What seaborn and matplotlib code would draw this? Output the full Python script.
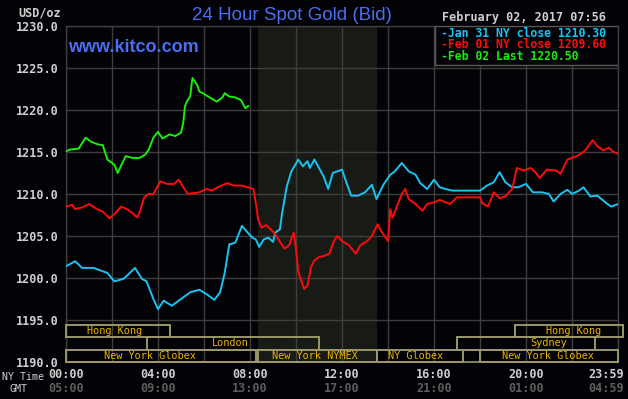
import matplotlib
matplotlib.use("Agg")
import matplotlib.pyplot as plt
import matplotlib.transforms as mtransforms
from matplotlib.patches import Rectangle
import seaborn as sns
import pandas as pd

# ---------------- data ----------------
jan31_hours = [0, 0.4, 0.7, 1.2, 1.8, 2.1, 2.5, 2.7, 3.0, 3.3, 3.5, 3.8, 4.0, 4.25, 4.6, 5.0,
               5.4, 5.8, 6.1, 6.45, 6.7, 6.9, 7.1, 7.36, 7.65, 7.9, 8.1, 8.25, 8.4, 8.6, 8.8,
               9.0, 9.1, 9.3, 9.4, 9.6, 9.8, 10.1, 10.3, 10.5, 10.6, 10.8, 11.0, 11.2, 11.4,
               11.6, 11.8, 12.0, 12.2, 12.4, 12.7, 13.0, 13.3, 13.5, 13.8, 14.1, 14.3, 14.6,
               14.9, 15.2, 15.4, 15.7, 16.0, 16.25, 16.5, 16.8, 18.0, 18.3, 18.6, 18.85, 19.1,
               19.4, 19.65, 20.0, 20.3, 20.7, 21.0, 21.2, 21.5, 21.8, 22.0, 22.3, 22.5, 22.8,
               23.1, 23.5, 23.7, 24.0]
jan31_price = [1201.4, 1202.0, 1201.2, 1201.2, 1200.6, 1199.6, 1199.9, 1200.4, 1201.2, 1199.9,
               1199.6, 1197.5, 1196.3, 1197.3, 1196.7, 1197.5, 1198.3, 1198.6, 1198.1, 1197.4,
               1198.3, 1200.6, 1204.0, 1204.2, 1206.2, 1205.4, 1204.8, 1204.6, 1203.7, 1204.6,
               1204.8, 1204.3, 1205.4, 1205.8, 1207.8, 1210.9, 1212.7, 1214.1, 1213.3, 1213.9,
               1213.1, 1214.1, 1213.1, 1212.1, 1210.6, 1212.5, 1212.7, 1212.9, 1211.3, 1209.8,
               1209.8, 1210.2, 1211.1, 1209.4, 1211.1, 1212.3, 1212.7, 1213.7, 1212.7, 1212.3,
               1211.3, 1210.6, 1211.7, 1210.8, 1210.6, 1210.4, 1210.4, 1211.0, 1211.4, 1212.6,
               1211.4, 1210.8, 1210.8, 1211.2, 1210.2, 1210.2, 1210.0, 1209.1, 1210.0, 1210.5,
               1210.0, 1210.4, 1210.8, 1209.7, 1209.8, 1208.9, 1208.5, 1208.8]

feb01_hours = [0, 0.26, 0.4, 0.7, 1.0, 1.35, 1.6, 1.9, 2.1, 2.4, 2.65, 2.9, 3.1, 3.2, 3.4, 3.6,
               3.8, 4.1, 4.4, 4.7, 4.9, 5.1, 5.3, 5.55, 5.8, 6.1, 6.35, 6.6, 7.0, 7.3, 7.65,
               7.9, 8.15, 8.25, 8.35, 8.5, 8.7, 8.9, 9.1, 9.35, 9.5, 9.7, 9.9, 10.0, 10.1,
               10.35, 10.5, 10.65, 10.8, 11.0, 11.2, 11.45, 11.65, 11.8, 12.0, 12.3, 12.6,
               12.8, 13.1, 13.3, 13.55, 13.7, 14.0, 14.1, 14.2, 14.4, 14.6, 14.75, 14.9, 15.2,
               15.5, 15.7, 16.0, 16.25, 16.7, 17.0, 18.0, 18.1, 18.35, 18.6, 18.85, 19.1,
               19.4, 19.6, 19.9, 20.2, 20.4, 20.6, 20.9, 21.3, 21.5, 21.8, 22.2, 22.55, 22.9,
               23.1, 23.35, 23.6, 23.8, 24.0]
feb01_price = [1208.5, 1208.7, 1208.2, 1208.4, 1208.8, 1208.2, 1207.9, 1207.1, 1207.6, 1208.5,
               1208.2, 1207.7, 1207.2, 1207.8, 1209.6, 1210.0, 1210.0, 1211.5, 1211.2, 1211.2,
               1211.7, 1210.8, 1210.0, 1210.1, 1210.2, 1210.6, 1210.4, 1210.8, 1211.3, 1211.0,
               1211.0, 1210.8, 1210.6, 1209.0, 1207.0, 1206.0, 1206.3, 1205.8, 1205.2, 1204.1,
               1203.5, 1203.9, 1205.4, 1203.5, 1200.7, 1198.7, 1199.1, 1201.3, 1202.1, 1202.5,
               1202.6, 1202.9, 1204.4, 1205.0, 1204.4, 1203.9, 1202.9, 1203.9, 1204.4, 1205.0,
               1206.4, 1205.6, 1204.4, 1208.2, 1207.2, 1208.6, 1210.0, 1210.6, 1209.4, 1208.8,
               1208.0, 1208.8, 1209.0, 1209.3, 1208.8, 1209.6, 1209.6, 1208.9, 1208.5, 1210.2,
               1209.5, 1209.7, 1210.6, 1213.1, 1212.8, 1213.1, 1212.6, 1211.9, 1212.9, 1212.8,
               1212.4, 1214.1, 1214.5, 1215.1, 1216.4, 1215.7, 1215.2, 1215.5, 1215.0, 1214.8]

feb02_hours = [0, 0.2, 0.55, 0.85, 1.1, 1.4, 1.6, 1.8, 2.1, 2.25, 2.4, 2.6, 2.9, 3.2, 3.45,
               3.6, 3.8, 4.0, 4.2, 4.5, 4.75, 5.0, 5.1, 5.17, 5.25, 5.4, 5.46, 5.5, 5.7, 5.8,
               6.0, 6.3, 6.55, 6.8, 6.9, 7.1, 7.35, 7.6, 7.8, 7.93]
feb02_price = [1215.1, 1215.3, 1215.4, 1216.7, 1216.2, 1215.9, 1215.8, 1214.1, 1213.5, 1212.5,
               1213.4, 1214.5, 1214.3, 1214.3, 1214.7, 1215.3, 1216.7, 1217.4, 1216.6, 1217.1,
               1216.9, 1217.3, 1218.5, 1220.4, 1221.0, 1221.6, 1223.0, 1223.8, 1223.0, 1222.2,
               1221.9, 1221.4, 1221.0, 1221.5, 1222.0, 1221.6, 1221.5, 1221.2, 1220.2, 1220.5]

legend_labels = ["Jan 31 NY close 1210.30", "Feb 01 NY close 1209.60", "Feb 02 Last 1220.50"]
ny_time_labels = ["00:00", "04:00", "08:00", "12:00", "16:00", "20:00", "23:59"]
gmt_labels = ["05:00", "09:00", "13:00", "17:00", "21:00", "01:00", "04:59"]
time_label_hours = [0, 4, 8, 12, 16, 20, 23.5]
y_ticks = [1190, 1195, 1200, 1205, 1210, 1215, 1220, 1225, 1230]

# sessions: name, start hour, end hour, row (0 bottom), label centre hour
session_names = ["Hong Kong", "London", "New York Globex", "New York NYMEX", "NY Globex",
                 "Sydney", "Hong Kong", "New York Globex"]
session_start = [0, 3.5, 0, 8.33, 13.5, 17.0, 19.5, 18.0]
session_end = [4.5, 11.0, 8.25, 13.5, 17.25, 23.0, 24.2, 24.0]
session_row = [2, 1, 0, 0, 0, 1, 2, 0]
session_label_at = [2.13, 7.13, 3.65, 10.8, 15.2, 21.0, 22.05, 20.96]

# ---------------- style ----------------
sns.set_theme(style="dark")
BG = "#030206"
GRID = "#3e3e3e"
TXT = "#cfcfcf"
plt.rcParams["font.family"] = ["DejaVu Sans"]

fig = plt.figure(figsize=(6.28, 3.99), dpi=100, facecolor=BG)
ax = fig.add_axes([66 / 628, 37 / 399, 552 / 628, 336 / 399])
ax.set_facecolor(BG)

colors = ["#19c3f3", "#ff0a0a", "#18ee08"]
frames = [
    pd.DataFrame({"hour": jan31_hours, "price": jan31_price}),
    pd.DataFrame({"hour": feb01_hours, "price": feb01_price}),
    pd.DataFrame({"hour": feb02_hours, "price": feb02_price}),
]

# shaded NYMEX pit session
ax.axvspan(8.33, 13.5, color="#181a16", zorder=0, lw=0)

for df, c in zip(frames, colors):
    sns.lineplot(data=df, x="hour", y="price", color=c, linewidth=1.4, ax=ax,
                 estimator=None, sort=False, zorder=5)

ax.set_xlim(0, 24)
ax.set_ylim(1190, 1230)
ax.set_yticks(y_ticks)
ax.set_yticklabels([f"{v:.1f}" for v in y_ticks], family="DejaVu Sans Mono",
                   fontweight="bold", fontsize=8.5, color=TXT)
ax.set_xticks(range(0, 25, 2))
ax.set_xticklabels([])
ax.tick_params(axis="both", length=0)
ax.tick_params(axis="y", pad=5)
ax.set_xlabel("")
ax.set_ylabel("")
ax.grid(True, color=GRID, linewidth=1.0, zorder=1)
ax.set_axisbelow(True)
for side in ["left", "right", "top"]:
    ax.spines[side].set_visible(True)
    ax.spines[side].set_color(GRID)
    ax.spines[side].set_linewidth(1.0)
ax.spines["bottom"].set_visible(True)
ax.spines["bottom"].set_color("#9a9868")
ax.spines["bottom"].set_linewidth(1.2)

# session bars (x data, y axes fraction)
trans = mtransforms.blended_transform_factory(ax.transData, ax.transAxes)
row_h = 0.0372
for name, s, e, r, lx in zip(session_names, session_start, session_end, session_row,
                             session_label_at):
    y0 = r * row_h
    ax.add_patch(Rectangle((s, y0), e - s, row_h, transform=trans, fill=False,
                           edgecolor="#9a9868", linewidth=1.4, zorder=3, clip_on=False))
    ax.text(lx, y0 + row_h / 2, name, transform=trans, ha="center", va="center",
            family="DejaVu Sans Mono", fontsize=7.4, color="#e8b400", zorder=4)

# legend box
ax.add_patch(Rectangle((16.04, 0.884), 24 - 16.04, 0.116, transform=trans,
                       facecolor=BG, edgecolor="#5a5a5a", linewidth=1.0, zorder=6))
for i, (lab, c) in enumerate(zip(legend_labels, colors)):
    ax.text(16.3, 0.978 - i * 0.0345, "-" + lab, transform=trans, ha="left", va="center",
            family="DejaVu Sans Mono", fontweight="bold", fontsize=8.3, color=c, zorder=7)

# x time labels
for h, ny, gmt in zip(time_label_hours, ny_time_labels, gmt_labels):
    ax.text(h, -0.037, ny, transform=trans, ha="center", va="center",
            family="DejaVu Sans Mono", fontweight="bold", fontsize=8.5, color=TXT,
            clip_on=False)
    ax.text(h, -0.078, gmt, transform=trans, ha="center", va="center",
            family="DejaVu Sans Mono", fontweight="bold", fontsize=8.5, color="#5e5e5e",
            clip_on=False)
fig.text(2 / 628, 1 - 377 / 399, "NY Time", ha="left", va="center",
         family="DejaVu Sans Mono", fontsize=7.2, color=TXT)
fig.text(10 / 628, 1 - 389 / 399, "GMT", ha="left", va="center",
         family="DejaVu Sans Mono", fontsize=7.2, color=TXT)

# header texts
fig.text(61 / 628, 1 - 13 / 399, "USD/oz", ha="right", va="center",
         family="DejaVu Sans Mono", fontweight="bold", fontsize=8.5, color=TXT)
fig.text(292 / 628, 1 - 15 / 399, "24 Hour Spot Gold (Bid)", ha="center", va="center",
         family="Liberation Sans", fontsize=13.5, color="#4a6ef2")
fig.text(68 / 628, 1 - 48 / 399, "www.kitco.com", ha="left", va="center",
         family="Liberation Sans", fontweight="bold", fontsize=13, color="#4a6ef2")
fig.text(606 / 628, 1 - 17 / 399, "February 02, 2017 07:56", ha="right", va="center",
         family="DejaVu Sans Mono", fontweight="bold", fontsize=8.5, color=TXT)

fig.savefig("out.png", dpi=100, facecolor=BG)
